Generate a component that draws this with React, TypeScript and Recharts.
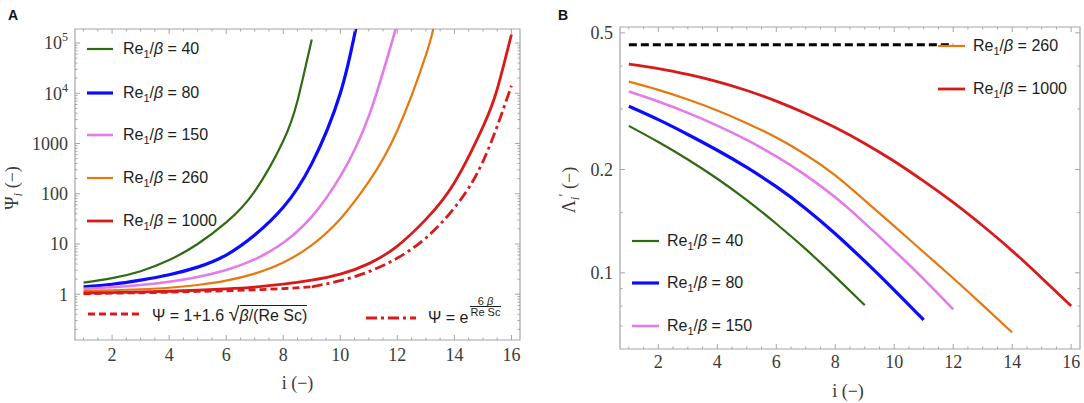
import React from "react";
import { LineChart, Line, XAxis, YAxis, ReferenceArea, Legend, Label } from "recharts";

const SERIF = '"Liberation Serif", "DejaVu Serif", serif';
const SANS = '"Liberation Sans", Arial, sans-serif';
const FRAME = "#a5a5a5";
const INK = "#3a3a3a";

// Re1/beta cases, shared by both panels
const RE_VALUES = ["40", "80", "150", "260", "1000"];
const SERIES_COLORS = ["#2e6b12", "#0b0bff", "#e57be8", "#e6780f", "#d91a1a"];
const SERIES_WIDTHS = [2.2, 3.2, 2.6, 2.2, 2.8];

// x axis (stage number i), same for both panels
const X_DOMAIN = [0.7, 16.3];
const X_MAJOR = [2, 4, 6, 8, 10, 12, 14, 16];
const X_MINOR = [1, 1.5, 2.5, 3, 3.5, 4.5, 5, 5.5, 6.5, 7, 7.5, 8.5, 9, 9.5, 10.5, 11, 11.5, 12.5, 13, 13.5, 14.5, 15, 15.5];

// ---- panel A: Psi_i ----
const A_Y_DOMAIN = [0.123, 190000];
const A_Y_MAJOR = [1, 10, 100, 1000, 10000, 100000];

const A_I_40 = [1, 2, 3, 4, 5, 6, 7, 8, 8.5, 9];
const A_PSI_40 = [1.7, 2.09, 2.88, 4.79, 10, 26.9, 112, 1122, 7079, 117500];
const A_I_80 = [1, 2, 3, 4, 5, 6, 7, 8, 9, 10, 10.6];
const A_PSI_80 = [1.41, 1.58, 1.91, 2.45, 3.47, 6.03, 15.1, 53.7, 398, 10000, 281800];
const A_I_150 = [1, 2, 3, 4, 5, 6, 7, 8, 9, 10, 11, 12];
const A_PSI_150 = [1.288, 1.38, 1.531, 1.778, 2.213, 3.055, 4.955, 10.59, 35.08, 221.3, 3508, 248300];
const A_I_260 = [1, 2, 3, 4, 5, 6, 7, 8, 9, 10, 11, 12, 13, 13.3];
const A_PSI_260 = [1.164, 1.202, 1.259, 1.349, 1.531, 1.862, 2.57, 4.266, 9.55, 31.6, 173.8, 1820, 57540, 251200];
const A_I_1000 = [1, 2, 3, 4, 5, 6, 7, 8, 9, 10, 11, 12, 13, 14, 15, 15.5, 16];
const A_PSI_1000 = [1.059, 1.081, 1.109, 1.148, 1.202, 1.279, 1.39, 1.585, 1.905, 2.512, 4.074, 9.12, 30.9, 166, 2138, 12020, 147900];
// analytical approximations (red dashed and dash-dotted)
const A_I_SQRT = [1, 2, 3, 4, 5, 6, 7, 8, 9];
const A_PSI_SQRT = [1.02, 1.05, 1.07, 1.1, 1.14, 1.17, 1.23, 1.3, 1.41];
const A_I_EXP = [9, 10, 11, 12, 13, 14, 15, 16];
const A_PSI_EXP = [1.41, 1.86, 2.82, 5.25, 13.2, 52.5, 437, 14130];

// ---- panel B: Lambda'_i ----
const B_Y_DOMAIN = [0.06, 0.52];
const B_Y_MAJOR = [0.1, 0.2, 0.5];
const B_Y_MINOR = [0.07, 0.08, 0.09, 0.15, 0.3, 0.4];

const B_LAM_40 = [0.2679, 0.2404, 0.2138, 0.1879, 0.1629, 0.139, 0.1172, 0.0975, 0.0805];
const B_LAM_80 = [0.3055, 0.2793, 0.2529, 0.2275, 0.2028, 0.1782, 0.1538, 0.13, 0.1081, 0.0891, 0.0729];
const B_LAM_150 = [0.3373, 0.3155, 0.2924, 0.2685, 0.2438, 0.2183, 0.1923, 0.166, 0.1396, 0.1161, 0.0959, 0.0783];
const B_LAM_260 = [0.3606, 0.3412, 0.3199, 0.2972, 0.2729, 0.2477, 0.2208, 0.1923, 0.1626, 0.1368, 0.1148, 0.0964, 0.0805, 0.067];
const B_LAM_1000 = [0.4055, 0.3936, 0.3784, 0.3606, 0.3396, 0.3162, 0.2911, 0.2649, 0.2382, 0.2113, 0.1849, 0.1603, 0.1371, 0.1159, 0.0966, 0.08];
const B_I_LIMIT = [1, 12];
const B_LAM_LIMIT = [0.462, 0.462];

const zip = (xs: number[], ys: number[]) => xs.map((x, k) => ({ i: x, v: ys[k] }));
const fromOne = (ys: number[]) => zip(ys.map((_, k) => k + 1), ys);
const logMinor = (decades: number[], lo: number, hi: number) =>
  decades
    .flatMap((d) => [2, 3, 4, 5, 6, 7, 8, 9].map((k) => +(d * k).toPrecision(3)))
    .filter((v) => v > lo && v < hi);
const A_Y_MINOR = logMinor([0.1, 1, 10, 100, 1000, 10000, 100000], A_Y_DOMAIN[0], A_Y_DOMAIN[1]);

const A_CURVES = [A_PSI_40, A_PSI_80, A_PSI_150, A_PSI_260, A_PSI_1000].map((v, k) =>
  zip([A_I_40, A_I_80, A_I_150, A_I_260, A_I_1000][k], v)
);
const B_CURVES = [B_LAM_40, B_LAM_80, B_LAM_150, B_LAM_260, B_LAM_1000].map(fromOne);

// plot boxes (chart-local pixels)
const A = { w: 540, h: 403, left: 75, right: 520, top: 29, bottom: 340 };
const B = { w: 544, h: 403, left: 80, right: 540, top: 27, bottom: 349 };

type Box = typeof A;

const makeXTick = (box: Box, labelDy: number) => (p: any) => {
  const v = p.payload.value;
  const major = X_MAJOR.includes(v);
  const len = major ? 5 : 2.5;
  return (
    <g>
      <line x1={p.x} x2={p.x} y1={box.bottom} y2={box.bottom - len} stroke={FRAME} />
      <line x1={p.x} x2={p.x} y1={box.top} y2={box.top + len} stroke={FRAME} />
      {major && (
        <text x={p.x} y={box.bottom + labelDy} textAnchor="middle" fontFamily={SERIF} fontSize={18} fill={INK}>
          {v}
        </text>
      )}
    </g>
  );
};

const makeYTick = (box: Box, majors: number[], fmt: (v: number) => React.ReactNode) => (p: any) => {
  const v = p.payload.value;
  const major = majors.includes(v);
  const len = major ? 5 : 2.5;
  return (
    <g>
      <line x1={box.left} x2={box.left + len} y1={p.y} y2={p.y} stroke={FRAME} />
      <line x1={box.right} x2={box.right - len} y1={p.y} y2={p.y} stroke={FRAME} />
      {major && (
        <text x={box.left - 7} y={p.y} dy="0.35em" textAnchor="end" fontFamily={SERIF} fontSize={18} fill={INK}>
          {fmt(v)}
        </text>
      )}
    </g>
  );
};

const fmtA = (v: number) =>
  v >= 10000 ? (
    <>
      <tspan>10</tspan>
      <tspan dy={-8} fontSize={12}>
        {Math.round(Math.log10(v))}
      </tspan>
    </>
  ) : (
    String(v)
  );

function Swatch({ color, width, dash, len }: { color: string; width: number; dash?: string; len: number }) {
  return (
    <svg width={len} height={8} style={{ display: "block", position: "absolute", left: 0, top: 6 }}>
      <line x1={0} x2={len} y1={4} y2={4} stroke={color} strokeWidth={width} strokeDasharray={dash} />
    </svg>
  );
}

function ReText({ re }: { re: string }) {
  return (
    <span>
      Re<span style={{ fontSize: 11, position: "relative", top: 4 }}>1</span>/<i>β</i> = {re}
    </span>
  );
}

function Row({ x, y, len, gap, children, sw }: any) {
  return (
    <div style={{ position: "absolute", left: x, top: y - 10, height: 20, width: 400 }}>
      {sw}
      <div style={{ position: "absolute", left: len + gap, top: 0, lineHeight: "20px", whiteSpace: "nowrap" }}>
        {children}
      </div>
    </div>
  );
}

const legendBase: React.CSSProperties = {
  position: "relative",
  fontFamily: SANS,
  fontSize: 16,
  color: "#1e1e1e",
};

function LegendA() {
  const rowsY = [49.3, 92.7, 135, 178.3, 221];
  return (
    <div style={{ ...legendBase, width: A.w, height: A.h }}>
      {RE_VALUES.map((re, k) => (
        <Row key={re} x={87} y={rowsY[k]} len={26} gap={10}
          sw={<Swatch color={SERIES_COLORS[k]} width={SERIES_WIDTHS[k]} len={26} />}>
          <ReText re={re} />
        </Row>
      ))}
      <Row x={88} y={314.3} len={52} gap={12}
        sw={<Swatch color={SERIES_COLORS[4]} width={2.8} dash="7 4" len={52} />}>
        <span>
          Ψ = 1+1.6{" "}
          <span style={{ fontSize: 20 }}>√</span>
          <span style={{ borderTop: "1.3px solid #1e1e1e", paddingTop: 1 }}>
            <i>β</i>/(Re Sc)
          </span>
        </span>
      </Row>
      <Row x={366} y={317.7} len={50} gap={12}
        sw={<Swatch color={SERIES_COLORS[4]} width={2.8} dash="11 4 3 4" len={50} />}>
        <span>
          Ψ = e
          <span style={{ display: "inline-block", position: "relative", top: -12, fontSize: 11, lineHeight: "10px", textAlign: "center", verticalAlign: "top", marginLeft: 1 }}>
            <span style={{ display: "block" }}>
              6 <i>β</i>
            </span>
            <span style={{ display: "block", borderTop: "1px solid #1e1e1e", padding: "0 1px" }}>Re Sc</span>
          </span>
        </span>
      </Row>
    </div>
  );
}

function LegendB() {
  const place = [
    { x: 92, y: 240.7 },
    { x: 92, y: 283.3 },
    { x: 92, y: 326 },
    { x: 398, y: 46 },
    { x: 398, y: 89.3 },
  ];
  return (
    <div style={{ ...legendBase, width: B.w, height: B.h }}>
      {RE_VALUES.map((re, k) => (
        <Row key={re} x={place[k].x} y={place[k].y} len={27} gap={8}
          sw={<Swatch color={SERIES_COLORS[k]} width={SERIES_WIDTHS[k]} len={27} />}>
          <ReText re={re} />
        </Row>
      ))}
    </div>
  );
}

const lineProps = { dataKey: "v", dot: false, activeDot: false, isAnimationActive: false };

function PanelA() {
  return (
    <LineChart width={A.w} height={A.h} margin={{ top: A.top, right: A.w - A.right, bottom: 0, left: 0 }}>
      <XAxis type="number" dataKey="i" domain={X_DOMAIN} allowDataOverflow ticks={[...X_MAJOR, ...X_MINOR]}
        interval={0} height={A.h - A.bottom} axisLine={false} tickLine={false} tickSize={0} tick={makeXTick(A, 21)}>
        <Label content={() => (
          <text x={(A.left + A.right) / 2} y={389} textAnchor="middle" fontFamily={SERIF} fontSize={18} fill={INK}>
            i (−)
          </text>
        )} />
      </XAxis>
      <YAxis type="number" scale="log" domain={A_Y_DOMAIN} allowDataOverflow ticks={[...A_Y_MAJOR, ...A_Y_MINOR]}
        interval={0} width={A.left} axisLine={false} tickLine={false} tickSize={0} tick={makeYTick(A, A_Y_MAJOR, fmtA)}>
        <Label content={() => (
          <text transform="translate(18,188) rotate(-90)" textAnchor="middle" fontFamily={SERIF} fontSize={18} fill={INK}>
            Ψ<tspan fontStyle="italic" fontSize={13} dy={4}>i</tspan>
            <tspan dy={-4}> (−)</tspan>
          </text>
        )} />
      </YAxis>
      <ReferenceArea x1={X_DOMAIN[0]} x2={X_DOMAIN[1]} y1={A_Y_DOMAIN[0]} y2={A_Y_DOMAIN[1]}
        fill="none" stroke={FRAME} strokeWidth={1.2} ifOverflow="visible" />
      {A_CURVES.map((d, k) => (
        <Line key={k} {...lineProps} type="natural" data={d} name={`Re1/β = ${RE_VALUES[k]}`}
          stroke={SERIES_COLORS[k]} strokeWidth={SERIES_WIDTHS[k]} />
      ))}
      <Line {...lineProps} type="natural" data={zip(A_I_SQRT, A_PSI_SQRT)} name="Ψ = 1+1.6√(β/(Re Sc))"
        stroke={SERIES_COLORS[4]} strokeWidth={2.8} strokeDasharray="7 4" />
      <Line {...lineProps} type="natural" data={zip(A_I_EXP, A_PSI_EXP)} name="Ψ = exp(6β/(Re Sc))"
        stroke={SERIES_COLORS[4]} strokeWidth={2.8} strokeDasharray="11 4 3 4" />
      <Legend layout="horizontal" verticalAlign="middle" align="center"
        wrapperStyle={{ left: 0, top: 0, width: A.w, height: A.h, margin: 0 }} content={() => <LegendA />} />
    </LineChart>
  );
}

function PanelB() {
  return (
    <LineChart width={B.w} height={B.h} margin={{ top: B.top, right: B.w - B.right, bottom: 0, left: 0 }}>
      <XAxis type="number" dataKey="i" domain={X_DOMAIN} allowDataOverflow ticks={[...X_MAJOR, ...X_MINOR]}
        interval={0} height={B.h - B.bottom} axisLine={false} tickLine={false} tickSize={0} tick={makeXTick(B, 19)}>
        <Label content={() => (
          <text x={(B.left + B.right) / 2 - 2} y={397} textAnchor="middle" fontFamily={SERIF} fontSize={18} fill={INK}>
            i (−)
          </text>
        )} />
      </XAxis>
      <YAxis type="number" scale="log" domain={B_Y_DOMAIN} allowDataOverflow ticks={[...B_Y_MAJOR, ...B_Y_MINOR]}
        interval={0} width={B.left} axisLine={false} tickLine={false} tickSize={0}
        tick={makeYTick(B, B_Y_MAJOR, (v) => String(v))}>
        <Label content={() => (
          <text transform="translate(35,190) rotate(-90)" textAnchor="middle" fontFamily={SERIF} fontSize={18} fill={INK}>
            Λ<tspan fontStyle="italic" fontSize={13} dy={4}>i</tspan>
            <tspan dy={-10} fontSize={14}>′</tspan>
            <tspan dy={6}> (−)</tspan>
          </text>
        )} />
      </YAxis>
      <ReferenceArea x1={X_DOMAIN[0]} x2={X_DOMAIN[1]} y1={B_Y_DOMAIN[0]} y2={B_Y_DOMAIN[1]}
        fill="none" stroke={FRAME} strokeWidth={1.2} ifOverflow="visible" />
      <Line {...lineProps} type="linear" data={zip(B_I_LIMIT, B_LAM_LIMIT)} name="limit"
        stroke="#000" strokeWidth={3} strokeDasharray="8 4" />
      {B_CURVES.map((d, k) => (
        <Line key={k} {...lineProps} type="natural" data={d} name={`Re1/β = ${RE_VALUES[k]}`}
          stroke={SERIES_COLORS[k]} strokeWidth={SERIES_WIDTHS[k]} />
      ))}
      <Legend layout="horizontal" verticalAlign="middle" align="center"
        wrapperStyle={{ left: 0, top: 0, width: B.w, height: B.h, margin: 0 }} content={() => <LegendB />} />
    </LineChart>
  );
}

export default function App() {
  const letter: React.CSSProperties = {
    position: "absolute", top: 8, fontFamily: SANS, fontWeight: "bold", fontSize: 14, lineHeight: "14px", color: "#111",
  };
  return (
    <div style={{ position: "absolute", left: 0, top: 0, width: 1084, height: 403, background: "#fff", overflow: "hidden" }}>
      <div style={{ position: "absolute", left: 0, top: 0 }}>
        <PanelA />
      </div>
      <div style={{ position: "absolute", left: 540, top: 0 }}>
        <PanelB />
      </div>
      <div style={{ ...letter, left: 8 }}>A</div>
      <div style={{ ...letter, left: 558 }}>B</div>
    </div>
  );
}
